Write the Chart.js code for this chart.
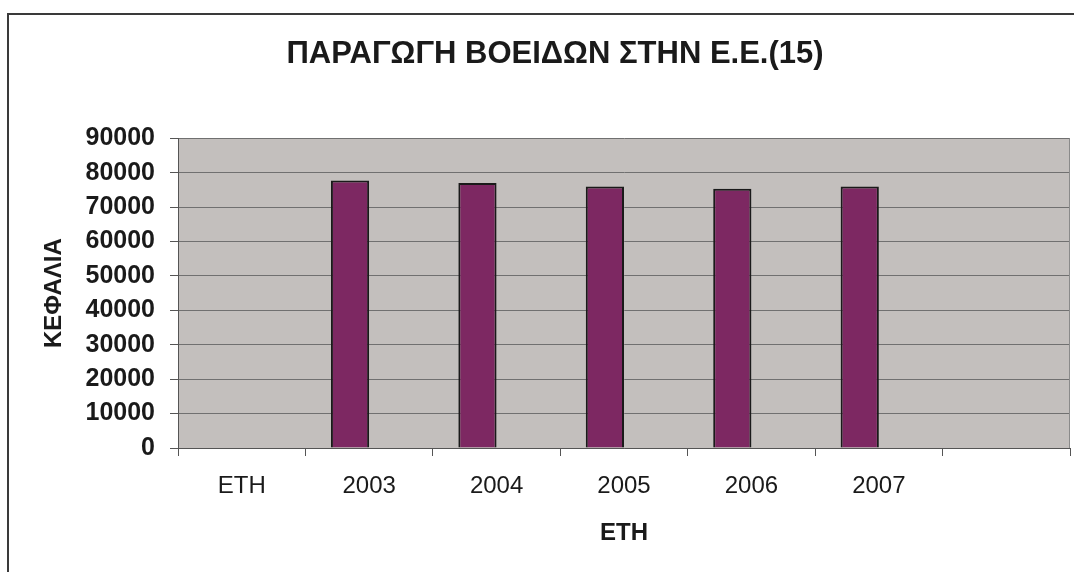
<!DOCTYPE html>
<html>
<head>
<meta charset="utf-8">
<script src="https://cdn.jsdelivr.net/npm/chart.js@4/dist/chart.umd.min.js"></script>
<style>
    html, body { margin: 0; padding: 0; background: #fff; }
    #wrap { position: relative; width: 1074px; height: 572px; overflow: hidden; }
    #frame { position: absolute; left: 7px; top: 13px; width: 1080px; height: 580px;
             border-left: 2px solid #3a3a3a; border-top: 2px solid #3a3a3a; }
    canvas { position: absolute; left: 0; top: 0; }
</style>
</head>
<body>
<div id="wrap">
    <div id="frame"></div>
    <canvas id="myChart" width="1074" height="572"></canvas>
</div>
<script>
    // categories (first one is the stray header cell, last one is empty)
    const years = ['ΕΤΗ', '2003', '2004', '2005', '2006', '2007', ''];
    // heads of cattle
    const heads = [null, 77700, 77000, 76000, 75300, 76000, null];
    // second, empty series that pushes the bars left of centre
    const emptySeries = [null, null, null, null, null, null, null];
    const yMax = 90000;
    const yStep = 10000;

    const FONT = "'Liberation Sans', Arial, sans-serif";

    // grey plot area + right border
    const plotBackground = {
        id: 'plotBackground',
        beforeDraw(chart) {
            const { ctx, chartArea: { left, top, width, height } } = chart;
            ctx.save();
            ctx.fillStyle = '#c3bfbd';
            ctx.fillRect(left, top, width, height);
            ctx.restore();
        },
        afterDraw(chart) {
            const { ctx, chartArea: { right, top, bottom } } = chart;
            ctx.save();
            ctx.strokeStyle = '#8a8a8a';
            ctx.lineWidth = 1;
            ctx.beginPath();
            ctx.moveTo(right - 0.5, top);
            ctx.lineTo(right - 0.5, bottom);
            ctx.stroke();
            ctx.restore();
        }
    };

    const data = {
        labels: years,
        datasets: [
            {
                label: 'ΚΕΦΑΛΙΑ',
                data: heads,
                backgroundColor: '#7d2862',
                borderColor: '#1a1a1a',
                borderWidth: 2,
                categoryPercentage: 0.6,
                barPercentage: 1
            },
            {
                label: '',
                data: emptySeries,
                backgroundColor: '#7d2862',
                categoryPercentage: 0.6,
                barPercentage: 1
            }
        ]
    };

    const config = {
        type: 'bar',
        data,
        options: {
            responsive: false,
            animation: false,
            layout: {
                padding: { left: 40, top: 20, right: 4, bottom: 0 }
            },
            plugins: {
                legend: { display: false },
                tooltip: { enabled: false },
                title: {
                    display: true,
                    text: 'ΠΑΡΑΓΩΓΗ ΒΟΕΙΔΩΝ ΣΤΗΝ Ε.Ε.(15)',
                    color: '#1a1a1a',
                    font: { family: FONT, size: 31, weight: 'bold' },
                    padding: { top: 16, bottom: 65 }
                }
            },
            scales: {
                x: {
                    afterFit(scale) { scale.height = 124; },
                    grid: {
                        offset: true,
                        drawOnChartArea: false,
                        drawTicks: true,
                        tickLength: 8,
                        color: '#555'
                    },
                    border: { display: true, color: '#555', width: 1 },
                    ticks: {
                        color: '#1a1a1a',
                        padding: 16,
                        maxRotation: 0,
                        font: { family: FONT, size: 24 }
                    },
                    title: {
                        display: true,
                        text: 'ΕΤΗ',
                        color: '#1a1a1a',
                        font: { family: FONT, size: 24, weight: 'bold' },
                        padding: { top: 0, bottom: 24 }
                    }
                },
                y: {
                    min: 0,
                    max: yMax,
                    afterFit(scale) { scale.width = 138; },
                    grid: {
                        color: '#707070',
                        lineWidth: 1,
                        drawTicks: true,
                        tickLength: 8,
                        tickColor: '#555'
                    },
                    border: { display: true, color: '#555', width: 1 },
                    ticks: {
                        stepSize: yStep,
                        color: '#1a1a1a',
                        padding: 15,
                        font: { family: FONT, size: 25, weight: 'bold' },
                        callback: (value) => String(value)
                    },
                    title: {
                        display: true,
                        text: 'ΚΕΦΑΛΙΑ',
                        color: '#1a1a1a',
                        font: { family: FONT, size: 24, weight: 'bold' },
                        padding: 0
                    }
                }
            }
        },
        plugins: [plotBackground]
    };

    new Chart(document.getElementById('myChart'), config);
</script>
</body>
</html>
